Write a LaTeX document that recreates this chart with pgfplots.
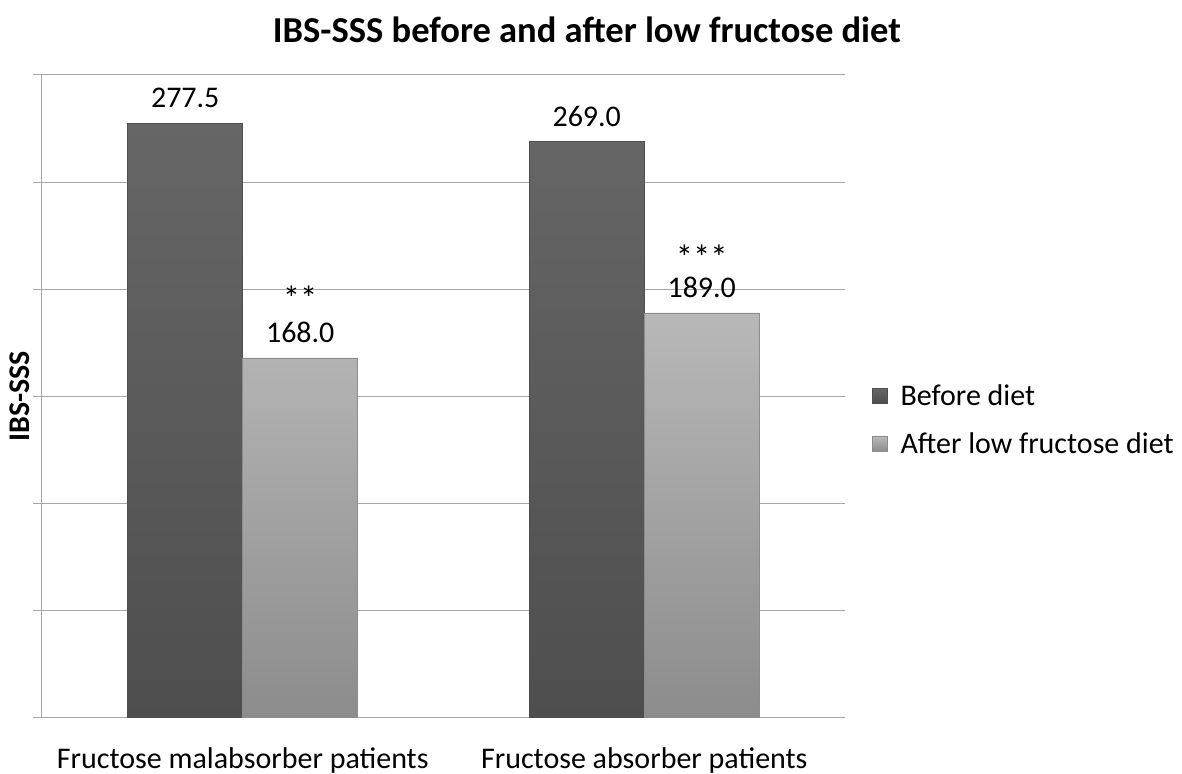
\documentclass[border=0pt]{standalone}
\usepackage{fontspec}
\setmainfont{Carlito}
\usepackage{pgfplots}
\pgfplotsset{compat=1.18}
\definecolor{gridc}{HTML}{A6A6A6}
\definecolor{beftop}{HTML}{666666}
\definecolor{befbot}{HTML}{4E4E4E}
\definecolor{afttop}{HTML}{B8B8B8}
\definecolor{aftbot}{HTML}{8C8C8C}
\pgfplotsset{sqlegend/.style={legend image code/.code={\fill[##1] (0pt,-5.5pt) rectangle (11pt,5.5pt);}}}
\newcommand{\stars}[1]{{\fontsize{26}{24}\selectfont #1}}
\begin{document}
\begin{tikzpicture}
\path[use as bounding box] (0,0) rectangle (886.5pt,580.5pt);
\begin{axis}[
  at={(31.5pt,42pt)}, anchor=south west,
  scale only axis, width=602.25pt, height=482.25pt,
  xmin=-0.5, xmax=1.5, ymin=0, ymax=300,
  ybar=0pt, bar width=86.25pt,
  axis lines*=left,
  x axis line style={draw=none},
  y axis line style={gridc, line width=0.75pt},
  xtick={0,1},
  xticklabels={Fructose malabsorber patients, Fructose absorber patients},
  major x tick style={draw=none},
  ytick={0,50,...,300}, yticklabels={},
  major y tick style={gridc, line width=0.75pt},
  tick align=outside, major tick length=6.75pt,
  ymajorgrids, grid style={gridc, line width=0.75pt},
  xticklabel style={font=\fontsize{22.5}{27}\selectfont, yshift=-12pt},
  ylabel={IBS-SSS},
  ylabel style={at={(axis description cs:0,0.5)}, anchor=center, yshift=16.5pt, font=\bfseries\fontsize{22.5}{27}\selectfont},
  title={IBS-SSS before and after low fructose diet},
  title style={at={(axis description cs:0.5,1)}, anchor=base, xshift=107.6pt, yshift=18pt, font=\bfseries\fontsize{27.4}{32}\selectfont},
  nodes near coords, point meta=explicit symbolic,
  every node near coord/.append style={font=\fontsize{22.5}{24}\selectfont, align=center, inner sep=0pt, yshift=11pt, text=black},
  legend style={at={(axis description cs:1,0.4635)}, anchor=west, xshift=20pt, draw=none, fill=none, font=\fontsize{22.5}{27}\selectfont, row sep=15pt, inner sep=0pt,
    /tikz/every odd column/.append style={column sep=8pt}},
  legend cell align=left,
]
\addplot[sqlegend, top color=beftop, bottom color=befbot, draw=befbot, line width=0.5pt]
  coordinates {(0,277.5)[277.5] (1,269.0)[269.0]};
\addplot[sqlegend, top color=afttop, bottom color=aftbot, draw=aftbot, line width=0.5pt]
  coordinates {(0,168.0)[{\stars{**}\\168.0}] (1,189.0)[{\stars{***}\\[-3pt]189.0}]};
\legend{Before diet, After low fructose diet}
\end{axis}
\end{tikzpicture}
\end{document}
